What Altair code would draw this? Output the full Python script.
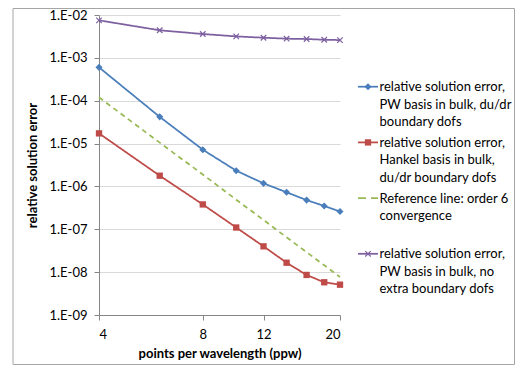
import altair as alt
import pandas as pd

# ---------------- data ----------------
ppw = [4, 6, 8, 10, 12, 14, 16, 18, 20]
err_pw_dudr = [6.0e-4, 4.2e-5, 7.2e-6, 2.33e-6, 1.18e-6, 7.3e-7, 4.8e-7, 3.5e-7, 2.6e-7]
err_hankel_dudr = [1.73e-5, 1.78e-6, 3.8e-7, 1.1e-7, 4.0e-8, 1.66e-8, 8.6e-9, 5.8e-9, 5.1e-9]
err_reference6 = [1.2e-4, 1.05e-5, 1.9e-6, 4.9e-7, 1.65e-7, 6.5e-8, 2.93e-8, 1.45e-8, 7.7e-9]
err_pw_none = [7.5e-3, 4.4e-3, 3.6e-3, 3.17e-3, 2.95e-3, 2.8e-3, 2.75e-3, 2.65e-3, 2.6e-3]

series_names = [
    "relative solution error, PW basis in bulk, du/dr boundary dofs",
    "relative solution error, Hankel basis in bulk, du/dr boundary dofs",
    "Reference line: order 6 convergence",
    "relative solution error, PW basis in bulk, no extra boundary dofs",
]
legend_lines = [
    ["relative solution error,", "PW basis in bulk, du/dr", "boundary dofs"],
    ["relative solution error,", "Hankel basis in bulk,", "du/dr boundary dofs"],
    ["Reference line: order 6", "convergence"],
    ["relative solution error,", "PW basis in bulk, no", "extra boundary dofs"],
]
series_colors = ["#4a7ebb", "#be4b48", "#98b954", "#7d60a0"]
x_ticks = [4, 8, 12, 20]
y_ticks = [1e-9, 1e-8, 1e-7, 1e-6, 1e-5, 1e-4, 1e-3, 1e-2]

rows = []
for name, vals in zip(series_names, [err_pw_dudr, err_hankel_dudr, err_reference6, err_pw_none]):
    for p, v in zip(ppw, vals):
        rows.append({"series": name, "ppw": p, "err": v})
df = pd.DataFrame(rows)

FONT = "Lato"
X_MARK = "M-1,-1L1,1M-1,1L1,-1"

cscale = alt.Scale(domain=series_names, range=series_colors)
dash_range = [[1, 0], [1, 0], [5, 4], [1, 0]]

x_enc = alt.X(
    "ppw:Q",
    scale=alt.Scale(type="log", domain=[4, 20], nice=False),
    axis=alt.Axis(values=x_ticks, title="points per wavelength (ppw)", grid=False,
                  tickSize=5, labelPadding=8, titlePadding=6, format="d"),
)
y_enc = alt.Y(
    "err:Q",
    scale=alt.Scale(type="log", domain=[1e-9, 1e-2], nice=False),
    axis=alt.Axis(values=y_ticks, title="relative solution error", grid=True,
                  tickSize=5, labelPadding=7, titlePadding=9,
                  labelExpr="'1.E-0' + round(-log(datum.value) / LN10)"),
)

base = alt.Chart(df)

lines = base.mark_line(strokeWidth=1.75).encode(
    x=x_enc, y=y_enc,
    color=alt.Color("series:N", scale=cscale, legend=None),
    strokeDash=alt.StrokeDash("series:N", scale=alt.Scale(domain=series_names, range=dash_range),
                              legend=None),
)

marker_specs = [
    (0, dict(shape="diamond", filled=True, size=50)),
    (1, dict(shape="square", filled=True, size=40)),
    (3, dict(shape=X_MARK, filled=False, size=30, strokeWidth=1.2)),
]
marker_layers = []
for idx, spec in marker_specs:
    marker_layers.append(
        base.transform_filter(alt.datum.series == series_names[idx]).mark_point(opacity=1, **spec).encode(
            x="ppw:Q", y="err:Q", color=alt.Color("series:N", scale=cscale, legend=None))
    )

# ---------------- legend (drawn by hand: line + marker + wrapped text) ----------------
LEG_X0, LEG_X1 = 259, 279
LEG_Y0, LEG_STEP = 71.7, 55.7
legend_layers = []
for i, (name, text_lines) in enumerate(zip(series_names, legend_lines)):
    ldf = pd.DataFrame({"series": [name], "label": ["|".join(text_lines)]})
    lc = alt.Chart(ldf)
    yy = LEG_Y0 + i * LEG_STEP
    col = alt.Color("series:N", scale=cscale, legend=None)
    rule_kw = dict(strokeWidth=1.75)
    if i == 2:
        rule_kw["strokeDash"] = [8, 5]
    legend_layers.append(lc.mark_rule(**rule_kw).encode(
        x=alt.value(LEG_X0), x2=alt.value(LEG_X1), y=alt.value(yy), color=col))
    for idx, spec in marker_specs:
        if idx == i:
            legend_layers.append(lc.mark_point(opacity=1, **spec).encode(
                x=alt.value((LEG_X0 + LEG_X1) / 2), y=alt.value(yy), color=col))
    legend_layers.append(lc.mark_text(
        align="left", baseline="top", lineBreak="|", lineHeight=17.5,
        font=FONT, fontSize=13, color="#000000").encode(
        x=alt.value(LEG_X1 + 1.5), y=alt.value(yy - 5.5), text="label:N"))

frame = alt.Chart(pd.DataFrame({"f": [0]})).mark_rect(
    fillOpacity=0, stroke="#a6a6a6", strokeWidth=1).encode(
    x=alt.value(-86), x2=alt.value(415.5), y=alt.value(-6.5), y2=alt.value(349.5))

chart = alt.layer(frame, lines, *marker_layers, *legend_layers).properties(
    width=241, height=300,
    autosize=alt.AutoSizeParams(type="none"),
    padding={"left": 91, "top": 7, "right": 175, "bottom": 50},
).configure(font=FONT, background="#ffffff").configure_view(stroke=None).configure_axis(
    labelFont=FONT, labelFontSize=13, labelColor="#000000",
    titleFont=FONT, titleFontSize=13, titleFontWeight="bold", titleColor="#000000",
    domainColor="#868686", tickColor="#868686", gridColor="#d9d9d9",
)

chart.save("out.html", embed_options={"renderer": "svg", "actions": False})
